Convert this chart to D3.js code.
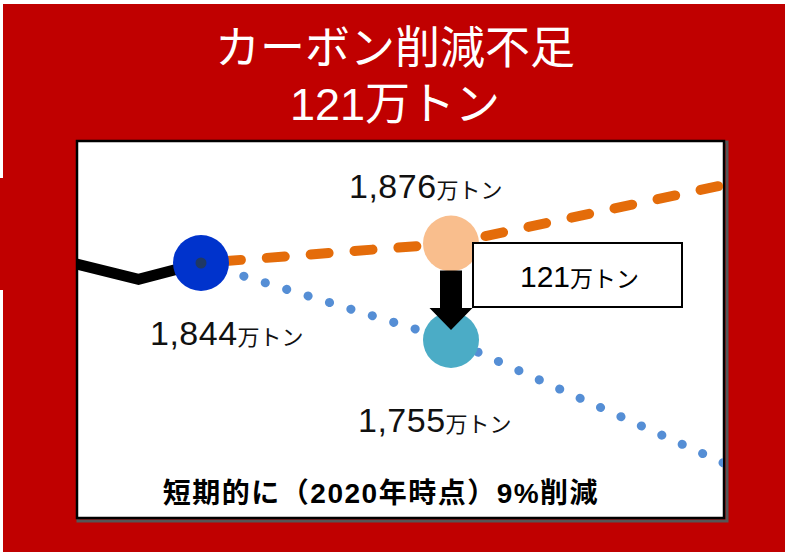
<!DOCTYPE html>
<html><head><meta charset="utf-8">
<script src="https://cdn.jsdelivr.net/npm/d3@7"></script>
<style>body{margin:0;background:#fff}svg{display:block}</style>
</head><body>
<script>
// ---- data ----
const histYears = [2014, 2015, 2016];
const histValues = [1843, 1825, 1844];
const bauYears = [2016, 2020, 2025];
const bauValues = [1844, 1876, 1986];
const targetYears = [2016, 2020, 2025];
const targetValues = [1844, 1755, 1592];
const titleLines = ["カーボン削減不足", "121万トン"];
const gapLabel = ["121", "万トン"];
const pointLabels = [
  {year: 2016, value: 1844, num: "1,844", unit: "万トン", pos: "below"},
  {year: 2020, value: 1876, num: "1,876", unit: "万トン", pos: "above"},
  {year: 2020, value: 1755, num: "1,755", unit: "万トン", pos: "below"}
];
const footnote = "短期的に（2020年時点）9%削減";

const W = 785, H = 552;
const svg = d3.select("body").append("svg").attr("width", W).attr("height", H);
const FONT = "'Liberation Sans', Arial, 'Noto Sans CJK JP', sans-serif";

// red frame
svg.append("rect").attr("x", 3).attr("y", 4).attr("width", W - 3).attr("height", H - 4).attr("fill", "#c00000");
svg.append("rect").attr("x", 0).attr("y", 178).attr("width", 6).attr("height", 112).attr("fill", "#c00000");

// title
svg.append("g").selectAll("text").data(titleLines).join("text")
  .attr("x", 395).attr("y", (d, i) => 64 + i * 56)
  .attr("text-anchor", "middle").attr("fill", "#fff")
  .attr("font-family", FONT).attr("font-size", 45)
  .text(d => d);

// inner panel
const P = {x: 77, y: 141, w: 647, h: 377};
svg.append("rect").attr("x", P.x + 1).attr("y", P.y + 1).attr("width", P.w + 2).attr("height", P.h + 2)
  .attr("fill", "none").attr("stroke", "#555").attr("stroke-width", 3);
svg.append("rect").attr("x", P.x).attr("y", P.y).attr("width", P.w).attr("height", P.h)
  .attr("fill", "#fff").attr("stroke", "#000").attr("stroke-width", 2.5);

svg.append("clipPath").attr("id", "clip").append("rect")
  .attr("x", P.x + 1).attr("y", P.y + 1).attr("width", P.w - 2).attr("height", P.h - 2);

// scales
const x = d3.scaleLinear().domain([2016, 2020]).range([201, 451]);
const y = d3.scaleLinear().domain([1755, 1844, 1876]).range([340, 263, 243.5]);

const line = d3.line().x(d => x(d[0])).y(d => y(d[1]));
const g = svg.append("g").attr("clip-path", "url(#clip)");

g.append("path").datum(d3.zip(targetYears, targetValues)).attr("d", line)
  .attr("fill", "none").attr("stroke", "#558ed5").attr("stroke-width", 9)
  .attr("stroke-linecap", "round").attr("stroke-dasharray", "0.1,22.3");
g.append("path").datum(d3.zip(bauYears, bauValues)).attr("d", line)
  .attr("fill", "none").attr("stroke", "#e46c0a").attr("stroke-width", 10)
  .attr("stroke-linecap", "round").attr("stroke-dasharray", "18,26").attr("stroke-dashoffset", 22);
g.append("path").datum(d3.zip(histYears, histValues)).attr("d", line)
  .attr("fill", "none").attr("stroke", "#000").attr("stroke-width", 11)
  .attr("stroke-linejoin", "miter");

// markers
g.append("circle").attr("cx", x(2016)).attr("cy", y(1844)).attr("r", 28).attr("fill", "#0033cc");
g.append("circle").attr("cx", x(2016)).attr("cy", y(1844)).attr("r", 5.5).attr("fill", "#1f3864");
g.append("circle").attr("cx", x(2020)).attr("cy", y(1876)).attr("r", 28).attr("fill", "#f9be8d");
g.append("circle").attr("cx", x(2020)).attr("cy", y(1755)).attr("r", 28).attr("fill", "#4bacc6");

// arrow from BAU to target
const ax = x(2020), aTop = y(1876) + 27, aTip = y(1755) - 10;
const hw = 21.5, sw = 11, headH = 22;
g.append("path").attr("d",
  `M${ax - sw},${aTop} L${ax + sw},${aTop} L${ax + sw},${aTip - headH} L${ax + hw},${aTip - headH} ` +
  `L${ax},${aTip} L${ax - hw},${aTip - headH} L${ax - sw},${aTip - headH} Z`).attr("fill", "#000");

// gap box
const bx = 473, byy = 243, bw = 209, bh = 64;
svg.append("rect").attr("x", bx).attr("y", byy).attr("width", bw).attr("height", bh)
  .attr("fill", "#fff").attr("stroke", "#000").attr("stroke-width", 2);
const gt = svg.append("text").attr("x", bx + bw / 2 + 2).attr("y", 287).attr("text-anchor", "middle")
  .attr("font-family", FONT).attr("fill", "#000");
gt.append("tspan").attr("font-size", 30).text(gapLabel[0]);
gt.append("tspan").attr("font-size", 23).text(gapLabel[1]);

// point labels
const offs = {"2016below": [-51, 82], "2020above": [-102, -46], "2020below": [-93, 92]};
pointLabels.forEach(p => {
  const o = offs[p.year + p.pos];
  const t = svg.append("text").attr("x", x(p.year) + o[0]).attr("y", y(p.value) + o[1])
    .attr("font-family", FONT).attr("fill", "#111");
  t.append("tspan").attr("font-size", 34).attr("letter-spacing", 0.5).text(p.num);
  t.append("tspan").attr("font-size", 22).text(p.unit);
});

// footnote
svg.append("text").attr("x", 381).attr("y", 503).attr("text-anchor", "middle")
  .attr("font-family", FONT).attr("font-weight", "bold").attr("font-size", 28)
  .attr("letter-spacing", 1.5).attr("fill", "#000")
  .text(footnote);
</script>
</body></html>
